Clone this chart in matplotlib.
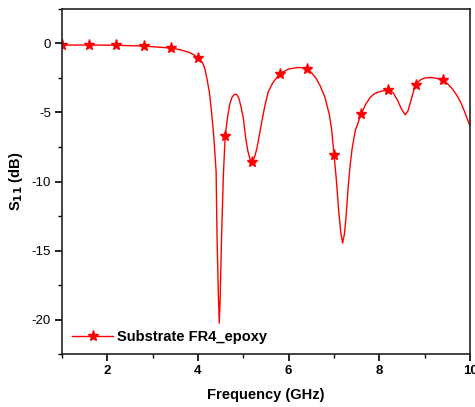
import numpy as np
import matplotlib
matplotlib.use("Agg")
import matplotlib.pyplot as plt
from matplotlib.ticker import MultipleLocator

plt.rcParams['font.family'] = ['Liberation Sans', 'DejaVu Sans']
plt.rcParams['axes.unicode_minus'] = False

# S11 curve (GHz, dB)
freq = [1.0, 1.6, 2.2, 2.8, 3.4, 3.6, 3.8, 3.9, 4.0, 4.1, 4.15, 4.2, 4.25, 4.3,
        4.35, 4.4, 4.42, 4.45, 4.47, 4.49, 4.52, 4.56, 4.6, 4.65, 4.7, 4.75,
        4.8, 4.85, 4.9, 4.95, 5.0, 5.05, 5.1, 5.15, 5.2, 5.25, 5.3, 5.35, 5.4,
        5.47, 5.55, 5.65, 5.8, 6.0, 6.2, 6.3, 6.4, 6.5, 6.6, 6.7, 6.8, 6.9,
        6.95, 7.0, 7.05, 7.1, 7.15, 7.19, 7.23, 7.27, 7.31, 7.35, 7.4, 7.47,
        7.6, 7.7, 7.8, 7.9, 8.0, 8.1, 8.2, 8.3, 8.4, 8.48, 8.57, 8.63, 8.7,
        8.76, 8.8, 8.9, 9.0, 9.15, 9.3, 9.4, 9.5, 9.6, 9.7, 9.8, 9.9, 10.0]
s11 = [-0.12, -0.11, -0.13, -0.19, -0.33, -0.45, -0.64, -0.8, -1.06, -1.4,
       -1.8, -2.6, -3.5, -5.0, -6.8, -9.3, -14.0, -18.3, -20.26, -18.3,
       -14.0, -9.5, -6.7, -5.4, -4.4, -3.9, -3.7, -3.68, -3.95, -4.6, -5.4,
       -6.8, -7.8, -8.4, -8.6, -8.2, -7.6, -6.7, -5.8, -4.6, -3.5, -2.85,
       -2.2, -1.85, -1.74, -1.76, -1.86, -2.1, -2.5, -3.1, -3.9, -5.2, -6.3,
       -8.07, -9.8, -12.0, -13.7, -14.46, -13.8, -12.4, -10.5, -9.0, -7.6,
       -6.3, -5.1, -4.4, -3.9, -3.62, -3.5, -3.42, -3.4, -3.55, -4.1, -4.7,
       -5.17, -4.9, -4.1, -3.4, -3.0, -2.65, -2.5, -2.46, -2.55, -2.68, -2.9,
       -3.25, -3.7, -4.3, -5.1, -6.0]

# star markers sit every 0.6 GHz
marker_freqs = [1.0, 1.6, 2.2, 2.8, 3.4, 4.0, 4.6, 5.2, 5.8, 6.4, 7.0, 7.6,
                8.2, 8.8, 9.4]
mark_idx = [i for i, f in enumerate(freq) if round(f, 2) in marker_freqs]

fig = plt.figure(figsize=(4.75, 4.07), dpi=100)
ax = fig.add_axes([0.1305, 0.130, 0.859, 0.848])

ax.plot(freq, s11, color='red', lw=1.0, marker='*', markersize=8,
        markevery=mark_idx, label='Substrate FR4_epoxy')

ax.set_xlim(1, 10)
ax.set_ylim(-22.5, 2.5)
ax.xaxis.set_major_locator(MultipleLocator(2))
ax.xaxis.set_minor_locator(MultipleLocator(1))
ax.yaxis.set_major_locator(MultipleLocator(5))
ax.yaxis.set_minor_locator(MultipleLocator(2.5))
ax.tick_params(which='major', direction='out', length=5, width=1.2,
               labelsize=9.5, pad=3)
ax.tick_params(which='minor', direction='out', length=3, width=1.0)
for lab in ax.get_xticklabels():
    lab.set_fontweight('bold')
for sp in ax.spines.values():
    sp.set_linewidth(1.2)
    sp.set_color('#222222')

ax.set_xlabel('Frequency (GHz)', fontsize=10.5, fontweight='bold', labelpad=8)
ax.set_ylabel('S$_{\\mathbf{11}}$ (dB)', fontsize=10.5, fontweight='bold',
              labelpad=5)

ax.legend(loc='lower left', frameon=False, prop={'size': 10.5, 'weight': 'bold'},
          handlelength=2.8, handletextpad=0.3, borderaxespad=0.3,
          bbox_to_anchor=(0.0, 0.0))

fig.savefig('out.png', dpi=100)
